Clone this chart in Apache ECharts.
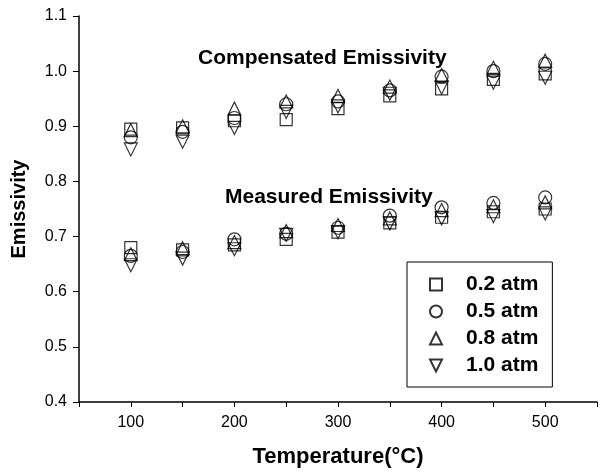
<!DOCTYPE html>
<html>
<head>
<meta charset="utf-8">
<script src="https://cdn.jsdelivr.net/npm/echarts@6/dist/echarts.min.js"></script>
<style>
  html, body { margin: 0; padding: 0; background: #fff; }
  #main { width: 600px; height: 473px; }
</style>
</head>
<body>
<div id="main"></div>
<script>
var temps = [100, 150, 200, 250, 300, 350, 400, 450, 500];
var names = ['0.2 atm', '0.5 atm', '0.8 atm', '1.0 atm'];

// compensated emissivity (upper group)
var comp02 = [0.895, 0.897, 0.910, 0.912, 0.932, 0.955, 0.968, 0.985, 0.995];
var comp05 = [0.880, 0.890, 0.915, 0.940, 0.945, 0.965, 0.990, 1.000, 1.013];
var comp08 = [0.893, 0.900, 0.932, 0.945, 0.955, 0.972, 0.993, 1.006, 1.019];
var comp10 = [0.858, 0.872, 0.897, 0.926, 0.936, 0.959, 0.970, 0.979, 0.988];

// measured emissivity (lower group)
var meas02 = [0.680, 0.676, 0.685, 0.695, 0.708, 0.725, 0.735, 0.745, 0.750];
var meas05 = [0.665, 0.672, 0.695, 0.705, 0.716, 0.738, 0.753, 0.761, 0.771];
var meas08 = [0.668, 0.679, 0.690, 0.710, 0.721, 0.733, 0.748, 0.755, 0.762];
var meas10 = [0.648, 0.660, 0.677, 0.703, 0.708, 0.724, 0.733, 0.737, 0.742];

var comps = [comp02, comp05, comp08, comp10];
var meass = [meas02, meas05, meas08, meas10];
var symbols = ['rect', 'circle', 'triangle', 'path://M0,0L2,0L1,2Z'];
var sizes = [12, 13, 13, 13];

var font = 'Liberation Sans, Arial, sans-serif';

function pairs(ys) {
    return temps.map(function (t, k) { return [t, ys[k]]; });
}

var myChart = echarts.init(document.getElementById('main'));

var series = [];
for (var i = 0; i < names.length; i++) {
    series.push({
        name: names[i],
        type: 'scatter',
        symbol: symbols[i],
        symbolSize: sizes[i],
        itemStyle: {
            color: 'rgba(0,0,0,0)',
            borderColor: '#000',
            borderWidth: 1.2
        },
        emphasis: { disabled: true },
        data: pairs(comps[i]).concat(pairs(meass[i]))
    });
}

option = {
    backgroundColor: '#fff',
    animation: false,
    textStyle: { fontFamily: font },
    grid: {
        left: 79,
        right: 0,
        top: 16,
        bottom: 70
    },
    xAxis: {
        type: 'value',
        min: 50,
        max: 550,
        interval: 50,
        name: 'Temperature(°C)',
        nameLocation: 'middle',
        nameGap: 44,
        nameTextStyle: { fontSize: 22, fontWeight: 'bold', color: '#000', fontFamily: font },
        axisLine: { lineStyle: { color: '#000', width: 1.5 } },
        axisTick: { length: 5, lineStyle: { color: '#000' } },
        axisLabel: {
            fontSize: 16,
            color: '#000',
            margin: 13,
            fontFamily: font,
            formatter: function (v) { return v % 100 === 0 && v >= 100 && v <= 500 ? String(v) : ''; }
        },
        splitLine: { show: false }
    },
    yAxis: {
        type: 'value',
        min: 0.4,
        max: 1.1,
        interval: 0.1,
        name: 'Emissivity',
        nameLocation: 'middle',
        nameGap: 50,
        nameTextStyle: { fontSize: 20, fontWeight: 'bold', color: '#000', fontFamily: font },
        axisLine: { show: true, lineStyle: { color: '#000', width: 1.5 } },
        axisTick: { show: true, length: 6, lineStyle: { color: '#000' } },
        axisLabel: {
            fontSize: 16,
            color: '#000',
            margin: 12,
            fontFamily: font,
            formatter: function (v) { return v.toFixed(1); }
        },
        splitLine: { show: false }
    },
    legend: {
        orient: 'vertical',
        left: 407,
        top: 262,
        data: names,
        itemWidth: 12,
        itemHeight: 12,
        itemGap: 6,
        padding: [12, 14, 11, 22],
        borderColor: '#000',
        borderWidth: 1,
        textStyle: { fontSize: 21, fontWeight: 'bold', color: '#000', fontFamily: font, padding: [0, 0, 0, 19] }
    },
    graphic: [
        {
            type: 'text',
            left: 198,
            top: 48,
            style: { text: 'Compensated Emissivity', fill: '#000', font: 'bold 21px ' + font }
        },
        {
            type: 'text',
            left: 225,
            top: 187,
            style: { text: 'Measured Emissivity', fill: '#000', font: 'bold 21px ' + font }
        }
    ],
    series: series
};
myChart.setOption(option);
</script>
</body>
</html>
